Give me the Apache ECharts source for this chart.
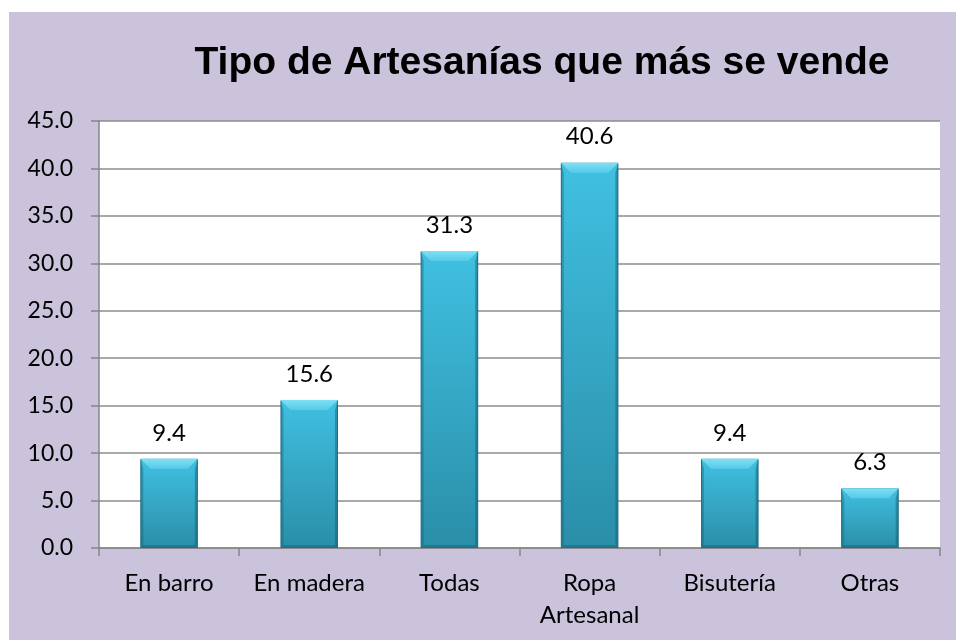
<!DOCTYPE html>
<html>
<head>
<meta charset="utf-8">
<script src="https://cdn.jsdelivr.net/npm/echarts@6/dist/echarts.min.js"></script>
<style>
  html, body { margin: 0; padding: 0; background: #fff; }
  #chart { width: 956px; height: 640px; }
</style>
</head>
<body>
<div id="chart"></div>
<script>
const categories = ['En barro', 'En madera', 'Todas', 'Ropa\nArtesanal', 'Bisutería', 'Otras'];
const values = [9.4, 15.6, 31.3, 40.6, 9.4, 6.3];
const titleText = 'Tipo de Artesanías que más se vende';

const LABEL_FONT = 'Lato, "Open Sans", sans-serif';
const BAR_RATIO = 0.41;

const chart = echarts.init(document.getElementById('chart'));

/* bevel overlay drawn on top of each bar */
function renderBevel(params, api) {
  const val = api.value(1);
  const top = api.coord([api.value(0), val]);
  const base = api.coord([api.value(0), 0]);
  const w = api.size([1, 0])[0] * BAR_RATIO;
  const x = top[0] - w / 2;
  const y = top[1];
  const h = base[1] - top[1];
  const b = 10;
  const s = 3;
  return {
    type: 'group',
    children: [
      { // top face
        type: 'polygon',
        shape: { points: [[x, y], [x + w, y], [x + w - b, y + b], [x + b, y + b]] },
        style: {
          fill: new echarts.graphic.LinearGradient(0, 0, 0, 1, [
            { offset: 0, color: '#7fdff4' },
            { offset: 1, color: '#55cbe8' }
          ])
        }
      },
      { // left edge
        type: 'polygon',
        shape: { points: [[x, y], [x + s, y + b], [x + s, y + h - s], [x, y + h]] },
        style: { fill: 'rgba(20,90,110,0.35)' }
      },
      { // right edge
        type: 'polygon',
        shape: { points: [[x + w, y], [x + w - s, y + b], [x + w - s, y + h - s], [x + w, y + h]] },
        style: { fill: 'rgba(20,90,110,0.45)' }
      },
      { // bottom edge
        type: 'polygon',
        shape: { points: [[x, y + h], [x + s, y + h - s], [x + w - s, y + h - s], [x + w, y + h]] },
        style: { fill: 'rgba(20,80,100,0.35)' }
      }
    ]
  };
}

chart.setOption({
  backgroundColor: '#fff',
  animation: false,
  graphic: [{
    type: 'rect',
    z: -10,
    silent: true,
    shape: { x: 9, y: 12, width: 947, height: 628 },
    style: { fill: '#cbc2db' }
  }],
  title: {
    text: titleText,
    left: 537,
    textAlign: 'center',
    top: 39,
    textStyle: {
      fontFamily: '"Liberation Sans", Arial, sans-serif',
      fontWeight: 'bold',
      fontSize: 39,
      color: '#000'
    }
  },
  grid: { left: 99, right: 16, top: 121, bottom: 92, show: true, backgroundColor: '#fff', borderWidth: 0 },
  xAxis: {
    type: 'category',
    data: categories,
    axisLine: { lineStyle: { color: '#868686', width: 1.5 } },
    axisTick: { show: true, length: 8, alignWithLabel: false, lineStyle: { color: '#868686', width: 1.5 } },
    axisLabel: { color: '#000', fontFamily: LABEL_FONT, fontSize: 24, margin: 19, lineHeight: 32, interval: 0 }
  },
  yAxis: {
    type: 'value',
    min: 0,
    max: 45,
    interval: 5,
    axisLine: { show: true, lineStyle: { color: '#868686', width: 1.5 } },
    axisTick: { show: true, length: 8, lineStyle: { color: '#868686', width: 1.5 } },
    axisLabel: {
      color: '#000', fontFamily: LABEL_FONT, fontSize: 23, margin: 26,
      formatter: v => v.toFixed(1)
    },
    splitLine: { lineStyle: { color: '#8c8c8c', width: 1.5 } }
  },
  series: [
    {
      type: 'bar',
      data: values,
      barWidth: (BAR_RATIO * 100) + '%',
      itemStyle: {
        color: new echarts.graphic.LinearGradient(0, 0, 0, 1, [
          { offset: 0, color: '#40c0e1' },
          { offset: 1, color: '#2a8ea8' }
        ]),
        borderColor: '#2a7c8f',
        borderWidth: 1
      },
      label: {
        show: true,
        position: 'top',
        distance: 14,
        color: '#000',
        fontFamily: LABEL_FONT,
        fontSize: 24,
        formatter: p => p.value.toFixed(1)
      }
    },
    {
      type: 'custom',
      renderItem: renderBevel,
      data: values.map((v, i) => [i, v]),
      silent: true,
      z: 3
    }
  ]
});
</script>
</body>
</html>
